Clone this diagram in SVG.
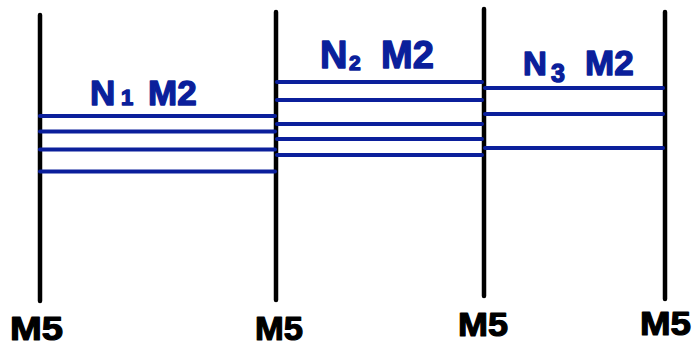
<svg xmlns="http://www.w3.org/2000/svg" width="695" height="346" viewBox="0 0 695 346">
<style>
.rail{stroke:#000;stroke-width:4.5;stroke-linecap:round;fill:none}
.wire{stroke:#0b1f9b;stroke-width:4;stroke-linecap:round;fill:none}
.m5{font-family:"Liberation Sans",Arial,sans-serif;font-weight:bold;font-size:33px;fill:#000;stroke:#000;stroke-width:1.2;stroke-linejoin:round}
.lbl{font-family:"Liberation Sans",Arial,sans-serif;font-weight:bold;font-size:35px;fill:#0b1f9b;stroke:#0b1f9b;stroke-width:1.4;stroke-linejoin:round}
</style>
<rect width="695" height="346" fill="#fff"/>
<g id="rail1"><line class="rail" x1="40" y1="15" x2="40" y2="301"/><text class="m5" x="10" y="340" textLength="53" lengthAdjust="spacingAndGlyphs">M5</text></g>
<g id="rail2"><line class="rail" x1="276" y1="12" x2="276" y2="300"/><text class="m5" x="255" y="340" textLength="48" lengthAdjust="spacingAndGlyphs">M5</text></g>
<g id="rail3"><line class="rail" x1="484" y1="9" x2="484" y2="296"/><text class="m5" x="458" y="336" textLength="50" lengthAdjust="spacingAndGlyphs">M5</text></g>
<g id="rail4"><line class="rail" x1="665" y1="12" x2="665" y2="299"/><text class="m5" x="640" y="335" textLength="51" lengthAdjust="spacingAndGlyphs">M5</text></g>
<g id="connectors">
<g id="bundle1">
<line class="wire" x1="40" y1="116" x2="275" y2="116"/>
<line class="wire" x1="40" y1="131.5" x2="275" y2="131.5"/>
<line class="wire" x1="40" y1="149.5" x2="275" y2="149.5"/>
<line class="wire" x1="40" y1="171.5" x2="275" y2="171.5"/>
</g>
<g id="bundle2">
<line class="wire" x1="277" y1="82" x2="482" y2="82"/>
<line class="wire" x1="277" y1="100" x2="482" y2="100"/>
<line class="wire" x1="277" y1="124" x2="482" y2="124"/>
<line class="wire" x1="277" y1="139" x2="482" y2="139"/>
<line class="wire" x1="277" y1="155" x2="482" y2="155"/>
</g>
<g id="bundle3">
<line class="wire" x1="485" y1="88" x2="663" y2="88"/>
<line class="wire" x1="485" y1="114" x2="663" y2="114"/>
<line class="wire" x1="485" y1="148" x2="663" y2="148"/>
</g>
</g>
<g id="label1"><text class="lbl" x="90" y="105">N<tspan x="121" style="font-size:22px">1</tspan><tspan x="148">M2</tspan></text></g>
<g id="label2"><text class="lbl" x="320" y="68" style="font-size:38px">N<tspan x="349" y="70" style="font-size:21px">2</tspan><tspan x="381" y="68">M2</tspan></text></g>
<g id="label3"><text class="lbl" x="523" y="75" style="font-size:33px">N<tspan x="551" y="82" style="font-size:25px">3</tspan><tspan x="585" y="75" style="font-size:35px">M2</tspan></text></g>
</svg>
